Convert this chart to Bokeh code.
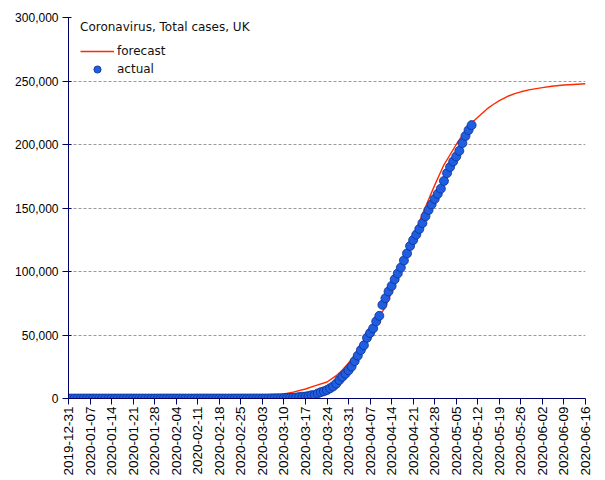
import math
import pandas as pd
from bokeh.plotting import figure
from bokeh.models import (FixedTicker, NumeralTickFormatter, DatetimeTickFormatter,
                          Legend, LegendItem, ColumnDataSource, Range1d)
from bokeh.embed import file_html
from bokeh.resources import INLINE

title_text = "Coronavirus, Total cases, UK"

# Weekly tick labels on the date axis
week_ticks = ["2019-12-31", "2020-01-07", "2020-01-14", "2020-01-21", "2020-01-28",
              "2020-02-04", "2020-02-11", "2020-02-18", "2020-02-25", "2020-03-03",
              "2020-03-10", "2020-03-17", "2020-03-24", "2020-03-31", "2020-04-07",
              "2020-04-14", "2020-04-21", "2020-04-28", "2020-05-05", "2020-05-12",
              "2020-05-19", "2020-05-26", "2020-06-02", "2020-06-09", "2020-06-16"]

y_ticks = [0, 50000, 100000, 150000, 200000, 250000, 300000]

# Actual total cases, daily from 2019-12-31
actual_start = "2019-12-31"
actual_values = [
    0,                                                                   # Dec 31
    0, 0, 0, 0, 0, 0, 0, 0, 0, 0, 0, 0, 0, 0, 0, 0,                      # Jan 1-16
    0, 0, 0, 0, 0, 0, 0, 0, 0, 0, 0, 0, 0, 0, 0,                         # Jan 17-31
    2, 2, 2, 2, 2, 2, 3, 3, 3, 4, 8, 9, 9, 9, 9,                         # Feb 1-15
    9, 9, 9, 9, 9, 9, 9, 9, 13, 13, 13, 13, 16, 20,                      # Feb 16-29
    23, 36, 40, 51, 85, 115, 163, 206, 273, 321, 373, 456, 590, 798,     # Mar 1-14
    1140, 1391, 1543, 1950, 2626, 2689, 3983, 5018, 5683, 6650, 8077,   # Mar 15-25
    9529, 11658, 14543, 17089, 19522, 22141,                            # Mar 26-31
    25150, 29474, 33718, 38168, 41903, 47806, 51608, 55242, 60733,       # Apr 1-9
    65077, 73758, 78991, 84279, 88621, 93873, 98476, 103093, 108692,     # Apr 10-18
    114217, 120067, 124743, 129044, 133495, 138078, 143464, 148377,      # Apr 19-26
    152840, 157149, 161145, 165221,                                      # Apr 27-30
    171253, 177454, 182260, 186599, 190584, 194990, 201101, 206715,      # May 1-8
    211364, 215260,                                                      # May 9-10
]

# Forecast total cases
forecast_dates = ["2020-03-10", "2020-03-13", "2020-03-17", "2020-03-20", "2020-03-24",
                  "2020-03-27", "2020-03-29", "2020-03-31", "2020-04-03", "2020-04-07",
                  "2020-04-10", "2020-04-12", "2020-04-14", "2020-04-17", "2020-04-21",
                  "2020-04-24", "2020-04-28", "2020-05-01", "2020-05-05", "2020-05-08",
                  "2020-05-10", "2020-05-12", "2020-05-15", "2020-05-17", "2020-05-19",
                  "2020-05-22", "2020-05-24", "2020-05-26", "2020-05-29", "2020-06-02",
                  "2020-06-05", "2020-06-09", "2020-06-12", "2020-06-16"]
forecast_values = [3500, 5000, 7500, 10000, 13000,
                   18000, 22500, 28000, 37000, 52000,
                   65000, 72000, 84000, 102000, 126000,
                   145000, 168000, 184000, 200000, 211000,
                   217000, 221500, 228000, 231500, 234500,
                   238200, 240000, 241500, 243200, 244800,
                   245900, 246800, 247300, 247800]

actual_dates = pd.date_range(actual_start, periods=len(actual_values), freq="D")
src_actual = ColumnDataSource(dict(x=actual_dates, y=actual_values))
src_fc = ColumnDataSource(dict(x=pd.to_datetime(forecast_dates), y=forecast_values))

tick_dt = pd.to_datetime(week_ticks)
tick_ms = [t.value / 1e6 for t in tick_dt]

W, H = 605, 480
p = figure(width=W, height=H, x_axis_type="datetime", output_backend="svg",
           toolbar_location=None, min_border_left=68, min_border_right=20,
           min_border_top=17, min_border_bottom=82)
p.x_range = Range1d(tick_ms[0], tick_ms[-1])
p.y_range = Range1d(y_ticks[0], y_ticks[-1])
p.outline_line_color = None
p.background_fill_color = "white"
p.border_fill_color = "white"

fc = p.line("x", "y", source=src_fc, line_color="#ff2a00", line_width=1.4)
dots = p.scatter("x", "y", source=src_actual, size=9, fill_color="#1f5ee0",
                 line_color="#0b2e94", line_width=0.8)

# axes
for ax in (p.xaxis[0], p.yaxis[0]):
    ax.axis_line_color = "#000066"
    ax.major_tick_line_color = "#000066"
    ax.minor_tick_line_color = None
    ax.major_label_text_font = "Liberation Sans"
    ax.major_label_text_color = "#000000"

p.yaxis.ticker = FixedTicker(ticks=y_ticks)
p.yaxis.formatter = NumeralTickFormatter(format="0,0")
p.yaxis.major_tick_out = 6
p.yaxis.major_tick_in = 3
p.yaxis.major_label_standoff = 4
p.yaxis.major_label_text_font_size = "12px"

p.xaxis.ticker = FixedTicker(ticks=tick_ms)
fmt = "%Y-%m-%d"
p.xaxis.formatter = DatetimeTickFormatter(days=fmt, months=fmt, years=fmt, hours=fmt,
                                          hourmin=fmt, minutes=fmt)
p.xaxis.major_label_orientation = math.pi / 2
p.xaxis.major_tick_out = 6
p.xaxis.major_tick_in = 0
p.xaxis.major_label_standoff = 2
p.xaxis.major_label_text_font_size = "13.5px"

p.xgrid.visible = False
p.ygrid.ticker = FixedTicker(ticks=y_ticks)
p.ygrid.grid_line_color = "#999999"
p.ygrid.grid_line_dash = "3 2"
p.ygrid.grid_line_width = 1

legend = Legend(items=[LegendItem(label="forecast", renderers=[fc]),
                       LegendItem(label="actual", renderers=[dots])],
                title=title_text, location=(12, 320), padding=0, margin=0,
                spacing=0, label_height=18, glyph_height=18, glyph_width=34,
                label_standoff=3, title_standoff=8,
                background_fill_alpha=0, border_line_alpha=0,
                label_text_font="DejaVu Sans", label_text_font_size="12px",
                title_text_font="DejaVu Sans", title_text_font_size="12px",
                title_text_font_style="normal", label_text_color="#111111",
                title_text_color="#111111")
p.add_layout(legend)

open("out.html", "w").write(file_html(p, INLINE))
